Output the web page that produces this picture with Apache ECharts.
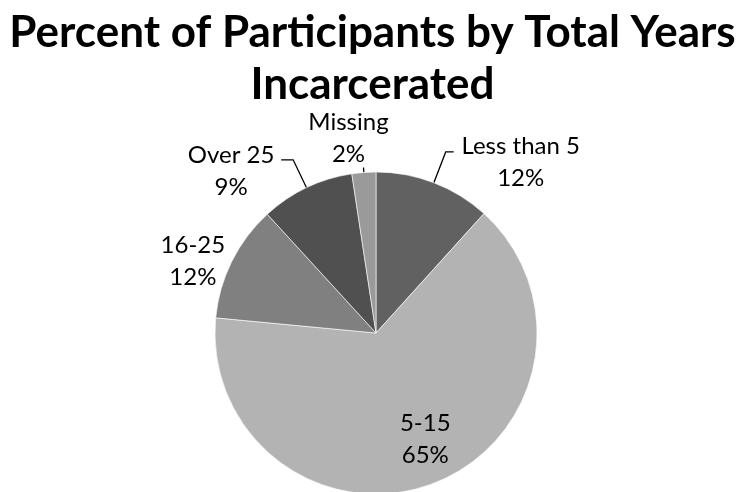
<!DOCTYPE html>
<html>
<head>
<meta charset="utf-8">
<script src="https://cdn.jsdelivr.net/npm/echarts@6/dist/echarts.min.js"></script>
<style>
  html, body { margin: 0; padding: 0; background: #fff; }
  #chart { width: 745px; height: 492px; }
</style>
</head>
<body>
<div id="chart"></div>
<script>
// 数据
var categories = ['Less than 5', '5-15', '16-25', 'Over 25', 'Missing'];
var values = [11.7, 64.8, 11.7, 9.4, 2.4];
var colors = ['#616161', '#b3b3b3', '#808080', '#505050', '#9a9a9a'];

// 每个标签的位置微调
var labelOpts = [
    { label: { distanceToLabelLine: 8, padding: [20, 0, 0, 0], rich: { t: { width: 118 } } },
      labelLine: { length: 33, length2: 8 } },
    { label: { position: 'inside', padding: [57, 0, 0, 38], rich: { t: { width: 50 } } },
      labelLine: { show: false } },
    { label: { distanceToLabelLine: 10, rich: { t: { width: 58 } } },
      labelLine: { show: false, length: 0, length2: 0 } },
    { label: { distanceToLabelLine: 8, padding: [22, 0, 0, 0], rich: { t: { width: 84 } } },
      labelLine: { length: 31, length2: 12 } },
    { label: { distanceToLabelLine: -26, padding: [0, 0, 59, 0], rich: { t: { width: 82 } } },
      labelLine: { length: 5, length2: 0 } }
];

var myChart = echarts.init(document.getElementById('chart'));

var data = categories.map(function (name, i) {
    var o = labelOpts[i];
    return {
        name: name,
        value: values[i],
        itemStyle: { color: colors[i] },
        label: o.label,
        labelLine: o.labelLine
    };
});

var option = {
    backgroundColor: '#fff',
    title: {
        text: 'Percent of Participants by Total Years\nIncarcerated',
        left: 'center',
        top: 2,
        textStyle: {
            fontFamily: 'Lato',
            fontWeight: 'bold',
            fontSize: 44,
            lineHeight: 52,
            color: '#000'
        }
    },
    series: [{
        type: 'pie',
        center: [376, 333],
        radius: 161,
        startAngle: 90,
        clockwise: true,
        avoidLabelOverlap: false,
        animation: false,
        itemStyle: { borderColor: '#fff', borderWidth: 0.6 },
        label: {
            show: true,
            position: 'outside',
            fontFamily: 'Lato',
            fontSize: 24,
            color: '#000',
            formatter: function (p) {
                return '{t|' + p.name + '}\n{t|' + Math.round(p.percent) + '%}';
            },
            rich: {
                t: { fontFamily: 'Lato', fontSize: 24, color: '#000', align: 'center', lineHeight: 32 }
            }
        },
        labelLine: {
            show: true,
            lineStyle: { color: '#000', width: 1.3 }
        },
        data: data
    }]
};

myChart.setOption(option);
</script>
</body>
</html>
